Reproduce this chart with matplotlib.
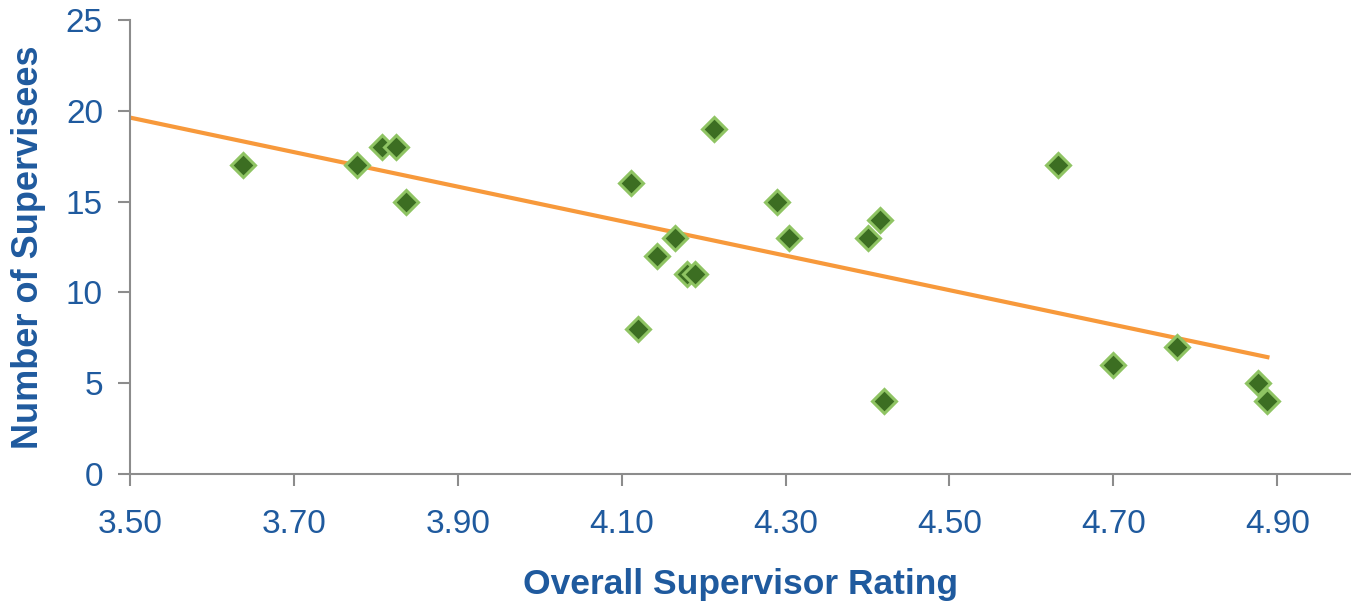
import numpy as np
import matplotlib.pyplot as plt

# Data
rating = [3.638, 3.777, 3.807, 3.824, 3.837, 4.111, 4.120, 4.143, 4.165, 4.180, 4.190,
          4.213, 4.289, 4.304, 4.401, 4.415, 4.420, 4.632, 4.699, 4.778, 4.876, 4.888]
supervisees = [17, 17, 18, 18, 15, 16, 8, 12, 13, 11, 11,
               19, 15, 13, 13, 14, 4, 17, 6, 7, 5, 4]

x_ticks = [3.50, 3.70, 3.90, 4.10, 4.30, 4.50, 4.70, 4.90]
y_ticks = [0, 5, 10, 15, 20, 25]

TEXT_BLUE = "#1f5a9e"
AXIS_GREY = "#8c8c8c"

plt.rcParams["font.family"] = ["Liberation Sans", "DejaVu Sans"]

fig = plt.figure(figsize=(13.51, 6.02), dpi=100)
ax = fig.add_axes([130 / 1351, 1 - 474 / 602, 1 - 130 / 1351, (474 - 20) / 602])

# Linear trend
slope, intercept = np.polyfit(rating, supervisees, 1)
tx = np.array([3.5, max(rating)])
ax.plot(tx, slope * tx + intercept, color="#f7993b", linewidth=3, zorder=2)

ax.plot(rating, supervisees, linestyle="none", marker="D", markersize=12.5,
        markerfacecolor="#3c6e22", markeredgecolor="#8fc463", markeredgewidth=2.2, zorder=3)

ax.set_xlim(3.5, 4.99)
ax.set_ylim(0, 25)
ax.set_xticks(x_ticks)
ax.set_xticklabels([f"{t:.2f}" for t in x_ticks])
ax.set_yticks(y_ticks)

for side in ["top", "right"]:
    ax.spines[side].set_visible(False)
for side in ["left", "bottom"]:
    ax.spines[side].set_color(AXIS_GREY)
    ax.spines[side].set_linewidth(1.5)

ax.tick_params(axis="both", direction="out", length=8.5, width=1.5, color=AXIS_GREY,
               labelcolor=TEXT_BLUE, labelsize=24)
ax.tick_params(axis="x", pad=17)
ax.tick_params(axis="y", pad=11)

ax.set_xlabel("Overall Supervisor Rating", fontsize=25.5, fontweight="bold", color=TEXT_BLUE, labelpad=20)
ax.set_ylabel("Number of Supervisees", fontsize=26, fontweight="bold", color=TEXT_BLUE, labelpad=14)

fig.savefig("out.png", dpi=100)
